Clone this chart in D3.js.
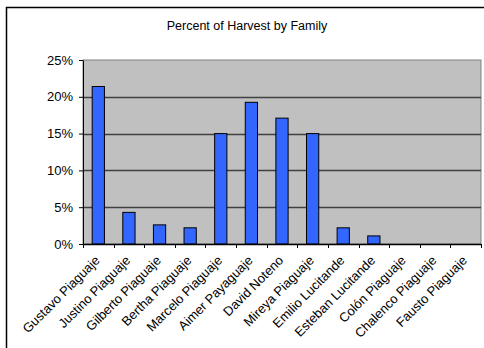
<!DOCTYPE html>
<html>
<head>
<meta charset="utf-8">
<script src="https://cdn.jsdelivr.net/npm/d3@7"></script>
<style>
  body { margin: 0; background: #fff; }
  text { font-family: Arial, "Liberation Sans", sans-serif; fill: #000; }
</style>
</head>
<body>
<svg id="chart"></svg>
<script>
// Chart data
const families = ["Gustavo Piaguaje", "Justino Piaguaje", "Gilberto Piaguaje", "Bertha Piaguaje",
  "Marcelo Piaguaje", "Aimer Payaguaje", "David Noteno", "Mireya Piaguaje", "Emilio Lucitande",
  "Esteban Lucitande", "Colón Piaguaje", "Chalenco Piaguaje", "Fausto Piaguaje"];
const harvestPct = [21.4, 4.3, 2.6, 2.2, 15.0, 19.25, 17.1, 15.0, 2.2, 1.1, 0, 0, 0];
const yTicks = [0, 5, 10, 15, 20, 25];
const chartTitle = "Percent of Harvest by Family";

const W = 484, H = 348;
const margin = {top: 60, right: 3, bottom: 104, left: 83};
const width = W - margin.left - margin.right;
const height = H - margin.top - margin.bottom;

const svg = d3.select("#chart").attr("width", W).attr("height", H);

// outer frame (right and bottom edges run off the picture)
svg.append("rect")
  .attr("x", 6.5).attr("y", 7.5)
  .attr("width", 500).attr("height", 400)
  .attr("fill", "none").attr("stroke", "#000").attr("stroke-width", 1.5);

svg.append("text")
  .attr("x", 247).attr("y", 30)
  .attr("text-anchor", "middle")
  .style("font-size", "12.5px")
  .text(chartTitle);

const chart = svg.append("g")
  .attr("transform", `translate(${margin.left},${margin.top})`);

const xScale = d3.scaleBand().domain(families).range([0, width]).paddingInner(0.6).paddingOuter(0.3);
const yScale = d3.scaleLinear().domain([0, 25]).range([height, 0]);

// plot background
chart.append("rect")
  .attr("width", width).attr("height", height)
  .attr("fill", "#c0c0c0")
  .attr("stroke", "#808080").attr("stroke-width", 1);

// gridlines
chart.selectAll(".grid")
  .data(yTicks.filter(d => d > 0 && d < 25))
  .enter().append("line")
  .attr("x1", 0).attr("x2", width)
  .attr("y1", d => Math.round(yScale(d)) + 0.5)
  .attr("y2", d => Math.round(yScale(d)) + 0.5)
  .attr("stroke", "#404040").attr("stroke-width", 1.3);

// bars
chart.selectAll(".bar")
  .data(harvestPct)
  .enter().append("rect")
  .attr("x", (d, i) => xScale(families[i]))
  .attr("y", d => yScale(d))
  .attr("width", xScale.bandwidth())
  .attr("height", d => height - yScale(d))
  .attr("fill", "#3366ff")
  .attr("stroke", d => d > 0 ? "#000" : "none")
  .attr("stroke-width", 1);

// y axis
const yAxis = d3.axisLeft(yScale).tickValues(yTicks).tickSize(4).tickSizeOuter(0)
  .tickFormat(d => d + "%");
const yAxisG = chart.append("g").call(yAxis);
yAxisG.select(".domain").attr("stroke", "#000");
yAxisG.selectAll("text").style("font-size", "13px").attr("dx", "-3px");

// x axis with category boundary ticks
const xBound = d3.scaleLinear().domain([0, families.length]).range([0, width]);
chart.append("line")
  .attr("x1", 0).attr("x2", width)
  .attr("y1", height + 0.5).attr("y2", height + 0.5)
  .attr("stroke", "#000").attr("stroke-width", 1.5);
chart.selectAll(".xtick")
  .data(d3.range(families.length + 1))
  .enter().append("line")
  .attr("x1", d => Math.round(xBound(d)) + 0.5)
  .attr("x2", d => Math.round(xBound(d)) + 0.5)
  .attr("y1", height).attr("y2", height + 4)
  .attr("stroke", "#000");

chart.selectAll(".xlabel")
  .data(families)
  .enter().append("text")
  .attr("transform", d => `translate(${xScale(d) + xScale.bandwidth() / 2 - 1},${height + 14}) rotate(-45)`)
  .attr("text-anchor", "end")
  .attr("dy", "0.35em")
  .style("font-size", "13px")
  .text(d => d);
</script>
</body>
</html>
